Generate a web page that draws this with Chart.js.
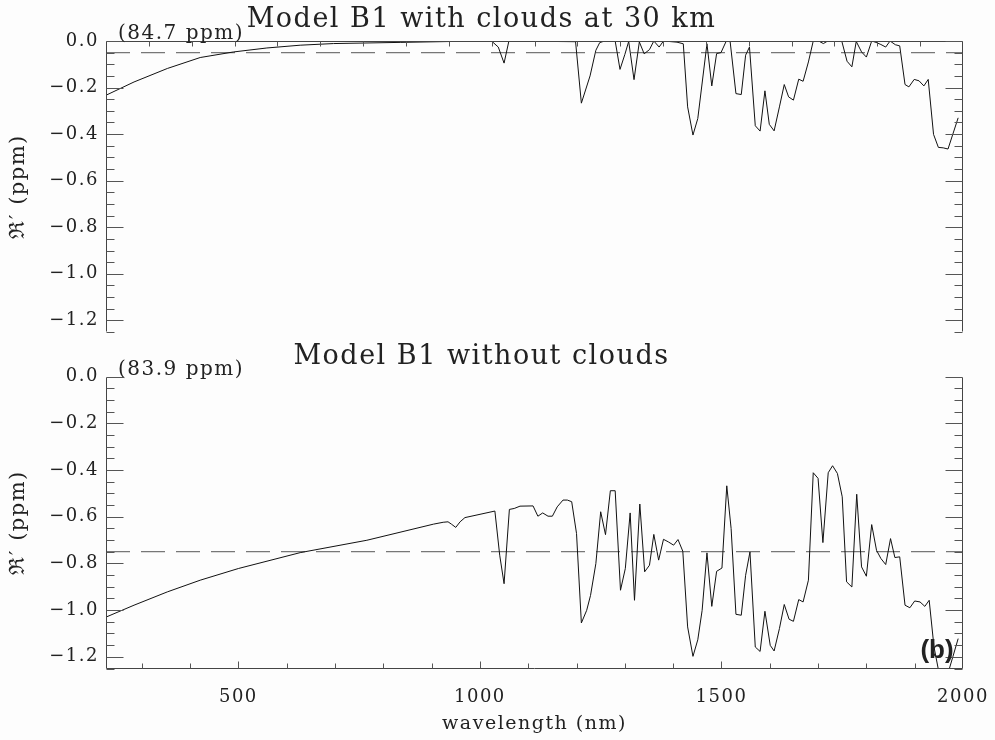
<!DOCTYPE html>
<html>
<head>
<meta charset="utf-8">
<title>Model B1 residual spectra</title>
<script src="https://cdn.jsdelivr.net/npm/chart.js@4"></script>
<style>
  body { margin: 0; background: #fdfdfd; }
  canvas { position: absolute; left: 0; }
  #top { top: 0; }
  #bottom { top: 335px; }
</style>
</head>
<body>
<canvas id="top" width="995" height="335"></canvas>
<canvas id="bottom" width="995" height="405"></canvas>
<script>
// axis ranges and labels
const wlMin = 226, wlMax = 2000;
const yMin = -1.25, yMax = 0;
const xTickLabels = [500, 1000, 1500, 2000];
const yTickLabels = [-1.2, -1.0, -0.8, -0.6, -0.4, -0.2, 0.0];

// top panel: clouds at 30 km
const cloudsWavelength = [226, 284, 353, 421, 490, 559, 628, 697, 835, 972,
  1024, 1038, 1050, 1060, 1198, 1210, 1228, 1240, 1248, 1258, 1280, 1290, 1300, 1308,
  1319, 1330, 1340, 1351, 1360, 1371, 1380, 1408, 1421, 1430, 1441, 1451, 1470,
  1480, 1490, 1499, 1510, 1518, 1530, 1541, 1550, 1558, 1570, 1580, 1590, 1599,
  1609, 1620, 1630, 1639, 1649, 1660, 1669, 1680, 1690, 1701, 1711, 1720, 1749,
  1760, 1770, 1779, 1790, 1800, 1811, 1820, 1830, 1840, 1849, 1860, 1869, 1880,
  1888, 1899, 1909, 1919, 1928, 1939, 1949, 1959, 1969, 1979, 1990];
const cloudsResidual = [-0.233, -0.176, -0.118, -0.071, -0.047, -0.030, -0.018, -0.011, -0.006, -0.001,
  0, -0.026, -0.095, 0, -0.003, -0.267, -0.15, -0.04, -0.007, 0, 0, -0.122, -0.058, -0.002,
  -0.166, -0.004, -0.055, -0.037, 0, -0.026, 0, -0.005, -0.012, -0.283, -0.404, -0.333, -0.012,
  -0.193, -0.054, -0.05, 0, -0.003, -0.226, -0.23, -0.061, -0.026, -0.364, -0.387, -0.214, -0.358,
  -0.386, -0.283, -0.187, -0.24, -0.254, -0.164, -0.173, -0.09, 0, 0, -0.011, 0, 0,
  -0.087, -0.111, -0.002, -0.047, -0.069, 0, -0.006, -0.015, -0.026, 0, -0.016, -0.021, -0.187,
  -0.197, -0.165, -0.171, -0.193, -0.165, -0.401, -0.457, -0.459, -0.464, -0.4, -0.33];
const cloudsMean = -0.05;

// bottom panel: no clouds
const clearWavelength = [226, 284, 353, 421, 500, 628, 766, 904, 924, 934, 941, 950, 959, 969,
  1031, 1041, 1050, 1061, 1071, 1083, 1110, 1120, 1130, 1141, 1150, 1160, 1172, 1181, 1190,
  1200, 1210, 1221, 1229, 1240, 1250, 1260, 1270, 1280, 1291, 1301, 1311, 1320, 1331, 1341,
  1351, 1360, 1370, 1380, 1390, 1401, 1410, 1420, 1430, 1441, 1451, 1460, 1470, 1480, 1490,
  1501, 1511, 1520, 1530, 1541, 1550, 1559, 1570, 1580, 1590, 1601, 1609, 1620, 1630, 1640,
  1649, 1660, 1669, 1680, 1690, 1700, 1710, 1721, 1730, 1740, 1750, 1759, 1770, 1780, 1790,
  1800, 1811, 1821, 1830, 1840, 1850, 1859, 1869, 1880, 1890, 1900, 1911, 1921, 1930, 1940,
  1950, 1960, 1969, 1979, 1990];
const clearResidual = [-1.03, -0.979, -0.922, -0.872, -0.822, -0.754, -0.701, -0.632, -0.624, -0.622, -0.632, -0.646, -0.622, -0.604,
  -0.576, -0.765, -0.887, -0.569, -0.565, -0.555, -0.554, -0.598, -0.584, -0.598, -0.598, -0.558, -0.529, -0.529, -0.536,
  -0.672, -1.055, -1.001, -0.937, -0.801, -0.579, -0.677, -0.489, -0.489, -0.915, -0.822, -0.584, -0.958, -0.546, -0.836,
  -0.808, -0.676, -0.786, -0.697, -0.708, -0.722, -0.698, -0.748, -1.072, -1.198, -1.127, -1.001, -0.755, -0.984, -0.834,
  -0.82, -0.468, -0.651, -1.018, -1.022, -0.851, -0.751, -1.158, -1.177, -1.005, -1.151, -1.175, -1.079, -0.976, -1.039,
  -1.048, -0.955, -0.965, -0.872, -0.412, -0.436, -0.711, -0.412, -0.382, -0.415, -0.515, -0.879, -0.901, -0.504, -0.815,
  -0.855, -0.634, -0.744, -0.779, -0.805, -0.694, -0.775, -0.772, -0.979, -0.99, -0.961, -0.965, -0.984, -0.958, -1.158,
  -1.265, -1.265, -1.27, -1.2, -1.122];
const clearMean = -0.75;

const FONT = 'DejaVu Serif';
const INK = '#222';
const SPACING = '1.5px';

function tickText(v) {
  return (v < -1e-9 ? '\u2212' : '') + Math.abs(v).toFixed(1);
}

function series(xs, ys) {
  return xs.map((x, i) => ({ x: x, y: ys[i] }));
}

// frame, inward ticks and the little text notes
const panelPlugin = {
  id: 'panel',
  beforeLayout(chart) { chart.ctx.letterSpacing = SPACING; },
  beforeDraw(chart) { chart.ctx.letterSpacing = SPACING; },
  afterDraw(chart, args, opts) {
    const ctx = chart.ctx;
    const a = chart.chartArea;
    const xs = chart.scales.x, ys = chart.scales.y;
    const L = Math.round(a.left) + 0.5, R = Math.round(a.right) - 0.5;
    const T = Math.round(a.top) + 0.5, B = Math.round(a.bottom) - 0.5;
    ctx.save();
    ctx.strokeStyle = '#444';
    ctx.lineWidth = 1;
    ctx.beginPath();
    ctx.moveTo(L, T); ctx.lineTo(L, B);
    ctx.moveTo(R, T); ctx.lineTo(R, B);
    if (opts.frameTop) { ctx.moveTo(L, T); ctx.lineTo(R, T); }
    if (opts.frameBottom) { ctx.moveTo(L, B); ctx.lineTo(R, B); }
    ctx.stroke();

    ctx.strokeStyle = '#555';
    ctx.beginPath();
    for (let k = 0; k <= 25; k++) {
      const py = Math.round(ys.getPixelForValue(yMin + k * 0.05)) + 0.5;
      const len = k % 4 === 1 ? 17 : 8;
      ctx.moveTo(L, py); ctx.lineTo(L + len, py);
      ctx.moveTo(R, py); ctx.lineTo(R - len, py);
    }
    if (opts.topDivisions) {
      for (let i = 1; i < opts.topDivisions; i++) {
        const px = Math.round(xs.getPixelForValue(wlMin + i * (wlMax - wlMin) / opts.topDivisions)) + 0.5;
        ctx.moveTo(px, T); ctx.lineTo(px, T + 5);
      }
    }
    if (opts.bottomStep) {
      for (let v = 300; v < wlMax; v += opts.bottomStep) {
        const px = Math.round(xs.getPixelForValue(v)) + 0.5;
        const len = v % 500 === 0 ? 7 : 5;
        ctx.moveTo(px, B); ctx.lineTo(px, B - len);
      }
    }
    ctx.stroke();

    ctx.fillStyle = INK;
    ctx.font = '20px "' + FONT + '"';
    ctx.textAlign = 'left';
    ctx.textBaseline = 'middle';
    ctx.fillText(opts.note, a.left + 12, a.top - 7);
    if (opts.tag) {
      ctx.letterSpacing = '0px';
      ctx.font = 'bold 26px "Liberation Sans"';
      ctx.textAlign = 'center';
      ctx.fillText(opts.tag, a.right - 26, a.bottom - 18);
    }
    ctx.restore();
  }
};

function makeChart(id, cfg) {
  const showX = cfg.showX;
  return new Chart(document.getElementById(id), {
    type: 'line',
    data: {
      datasets: [
        {
          data: series(cfg.wl, cfg.values),
          borderColor: '#111',
          borderWidth: 1,
          pointRadius: 0,
          tension: 0
        },
        {
          data: series([wlMin, wlMax], [cfg.mean, cfg.mean]),
          borderColor: '#777',
          borderWidth: 1.3,
          borderDash: [24, 11],
          pointRadius: 0
        }
      ]
    },
    options: {
      responsive: false,
      animation: false,
      devicePixelRatio: 1,
      layout: { padding: { left: 0, right: 32, top: 0, bottom: 0 } },
      plugins: {
        legend: { display: false },
        tooltip: { enabled: false },
        title: {
          display: true,
          text: cfg.title,
          color: INK,
          font: { family: FONT, size: 27, weight: 'normal', lineHeight: 1.1 },
          padding: cfg.titlePad
        },
        panel: {
          note: cfg.note,
          tag: cfg.tag,
          frameTop: !showX,
          frameBottom: showX,
          topDivisions: showX ? 0 : 20,
          bottomStep: showX ? 100 : 0
        }
      },
      scales: {
        x: {
          type: 'linear',
          min: wlMin,
          max: wlMax,
          afterBuildTicks: s => { s.ticks = xTickLabels.map(v => ({ value: v })); },
          afterFit: s => {
            s.height = cfg.xHeight;
            s.paddingLeft = 0;
            s.paddingRight = 0;
          },
          grid: { display: false, drawTicks: false },
          border: { display: false },
          ticks: {
            display: showX,
            padding: 18,
            maxRotation: 0,
            autoSkip: false,
            color: INK,
            font: { family: FONT, size: 18 },
            callback: v => String(v)
          },
          title: {
            display: showX,
            text: 'wavelength (nm)',
            color: INK,
            font: { family: FONT, size: 19 },
            padding: { top: 0, bottom: 5 }
          }
        },
        y: {
          type: 'linear',
          min: yMin,
          max: yMax,
          afterBuildTicks: s => { s.ticks = yTickLabels.map(v => ({ value: v })); },
          afterFit: s => {
            s.width = 106;
            s.paddingTop = 0;
            s.paddingBottom = 0;
          },
          grid: { display: false, drawTicks: false },
          border: { display: false },
          ticks: {
            padding: 7,
            color: INK,
            font: { family: FONT, size: 18 },
            callback: v => tickText(v)
          },
          title: {
            display: true,
            text: '\u211C\u2032 (ppm)',
            color: INK,
            font: { family: FONT, size: 21 },
            padding: { top: 6, bottom: 0 }
          }
        }
      }
    },
    plugins: [panelPlugin]
  });
}

makeChart('top', {
  title: 'Model B1 with clouds at 30 km',
  titlePad: { top: 5, bottom: 6.3 },
  note: '(84.7 ppm)',
  wl: cloudsWavelength,
  values: cloudsResidual,
  mean: cloudsMean,
  showX: false,
  xHeight: 3
});

makeChart('bottom', {
  title: 'Model B1 without clouds',
  titlePad: { top: 7, bottom: 4.8 },
  note: '(83.9 ppm)',
  tag: '(b)',
  wl: clearWavelength,
  values: clearResidual,
  mean: clearMean,
  showX: true,
  xHeight: 71.5
});
</script>
</body>
</html>
